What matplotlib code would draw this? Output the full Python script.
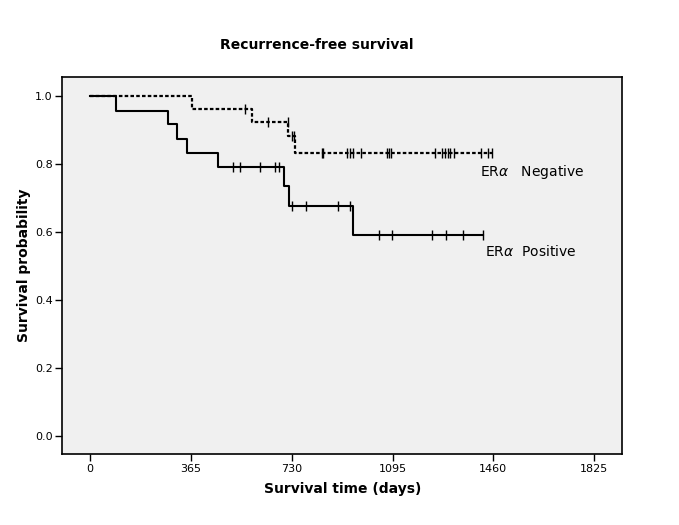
import matplotlib
matplotlib.use("Agg")
import matplotlib.pyplot as plt
import numpy as np

plt.rcParams['font.family'] = ['Liberation Sans Narrow', 'DejaVu Sans']

# ER alpha positive (solid)
pos_event_days = [92, 280, 313, 350, 463, 702, 719, 953]
pos_surv = [0.958, 0.917, 0.875, 0.833, 0.792, 0.735, 0.678, 0.593]
pos_censor_days = [518, 543, 614, 669, 684, 732, 782, 896, 940,
                   1047, 1094, 1239, 1289, 1351, 1423]

# ER alpha negative (dashed)
neg_event_days = [367, 586, 717, 743]
neg_surv = [0.963, 0.924, 0.883, 0.832]
neg_censor_days = [560, 644, 717, 730, 738, 838, 843, 931, 941, 952, 981,
                   1074, 1082, 1090, 1250, 1274, 1285, 1294, 1303, 1319,
                   1416, 1442, 1454]

xticks = [0, 365, 730, 1095, 1460, 1825]
yticks = [0.0, 0.2, 0.4, 0.6, 0.8, 1.0]


def km_steps(event_days, surv, end_day):
    xs = [0] + list(event_days) + [end_day]
    ys = [1.0] + list(surv) + [surv[-1]]
    return xs, ys


def surv_at(days, event_days, surv):
    # censored just before an event on the same day
    out = []
    for d in days:
        s = 1.0
        for e, v in zip(event_days, surv):
            if e < d:
                s = v
        out.append(s)
    return out


fig = plt.figure(figsize=(6.79, 5.25), dpi=100)
ax = fig.add_axes([0.0918, 0.1352, 0.8247, 0.7176])
ax.set_facecolor('#f0f0f0')

# negative
xs, ys = km_steps(neg_event_days, neg_surv, max(neg_censor_days))
ax.step(xs, ys, where='post', color='black', lw=1.6, linestyle=(0, (1.6, 1.0)))
cy = surv_at(neg_censor_days, neg_event_days, neg_surv)
ax.plot(neg_censor_days, cy, linestyle='none', marker='|', color='black',
        markersize=7, markeredgewidth=1.0)

# positive
xs, ys = km_steps(pos_event_days, pos_surv, max(pos_censor_days))
ax.step(xs, ys, where='post', color='black', lw=1.5)
cy = surv_at(pos_censor_days, pos_event_days, pos_surv)
ax.plot(pos_censor_days, cy, linestyle='none', marker='|', color='black',
        markersize=7, markeredgewidth=1.0)

ax.set_xlim(-101, 1927)
ax.set_ylim(-0.053, 1.056)
ax.set_xticks(xticks)
ax.set_xticklabels([str(t) for t in xticks])
ax.set_yticks(yticks)
ax.set_yticklabels(['%.1f' % t for t in yticks])
ax.tick_params(direction='out', length=5, width=1, labelsize=8, pad=2)
for s in ax.spines.values():
    s.set_linewidth(1.2)

ax.text(1410, 0.832 - 0.055, r'ER$\alpha$   Negative', fontsize=10,
        va='center', ha='left')
ax.text(1428, 0.593 - 0.05, r'ER$\alpha$  Positive', fontsize=10,
        va='center', ha='left')

ax.set_xlabel('Survival time (days)', fontsize=10, fontweight='bold', labelpad=6)
ax.set_ylabel('Survival probability', fontsize=10, fontweight='bold', labelpad=3)
fig.text(316.5 / 679, 1 - 45 / 525, 'Recurrence-free survival', fontsize=10,
         fontweight='bold', ha='center', va='center')

fig.savefig('out.png', dpi=100)
